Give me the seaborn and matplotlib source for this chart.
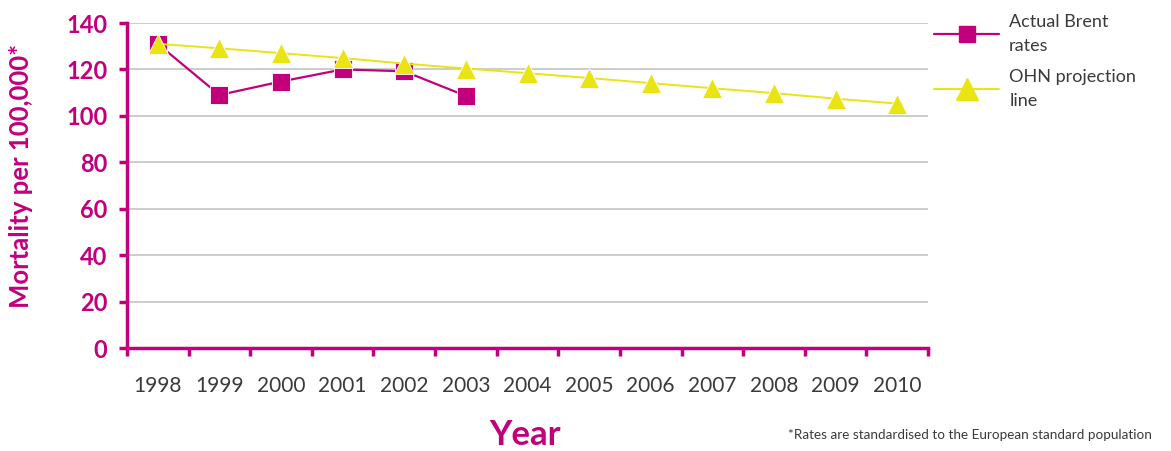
import matplotlib
matplotlib.use("Agg")
import matplotlib.pyplot as plt
from matplotlib.lines import Line2D
from matplotlib.ticker import FixedLocator
import numpy as np
import pandas as pd
import seaborn as sns

years = ["1998", "1999", "2000", "2001", "2002", "2003", "2004",
         "2005", "2006", "2007", "2008", "2009", "2010"]
actual_years = ["1998", "1999", "2000", "2001", "2002", "2003"]
actual_rates = [131.0, 109.0, 114.8, 120.0, 119.2, 108.6]
projection_rates = [131.0, 129.1, 127.0, 124.9, 122.5, 120.4, 118.4,
                    116.3, 114.1, 111.9, 109.8, 107.4, 105.3]
y_ticks = [0, 20, 40, 60, 80, 100, 120, 140]

MAGENTA = "#C2007B"
YELLOW = "#EAE414"
TEXT_GREY = "#3a3a3a"

sns.set_theme(style="white")
plt.rcParams["font.family"] = ["Lato", "DejaVu Sans"]

pos = {y: i for i, y in enumerate(years)}
actual_df = pd.DataFrame({"x": [pos[y] for y in actual_years], "rate": actual_rates})
proj_df = pd.DataFrame({"x": [pos[y] for y in years], "rate": projection_rates})

fig = plt.figure(figsize=(11.71, 4.51), dpi=100)
ax = fig.add_axes([127 / 1171, 1 - 348 / 451, (928 - 127) / 1171, (348 - 23) / 451])

ax.set_ylim(0, 140)
ax.set_xlim(-0.5, len(years) - 0.5)

# light horizontal gridlines
for v in y_ticks[1:]:
    ax.axhline(v, color="#c4c4c4", lw=1.2, zorder=0)

sns.lineplot(data=actual_df, x="x", y="rate", ax=ax, color=MAGENTA, lw=1.6,
             marker="s", markersize=13, markeredgecolor="white",
             markeredgewidth=0.6, zorder=3, legend=False)
sns.lineplot(data=proj_df, x="x", y="rate", ax=ax, color=YELLOW, lw=1.4,
             marker="^", markersize=14, markeredgecolor="white",
             markeredgewidth=0.6, zorder=4, legend=False)

# spines
for side in ("top", "right"):
    ax.spines[side].set_visible(False)
for side in ("left", "bottom"):
    ax.spines[side].set_color(MAGENTA)
    ax.spines[side].set_linewidth(2.5)

# y ticks
ax.set_yticks(y_ticks)
ax.set_yticklabels([str(v) for v in y_ticks], fontsize=17, fontweight="bold",
                   color=MAGENTA)
ax.tick_params(axis="y", direction="out", length=6, width=2.5, color=MAGENTA,
               pad=8, left=True)

# x ticks: labels centred on each year, marks on category boundaries
ax.set_xticks(range(len(years)))
ax.set_xticklabels(years, fontsize=15, color=TEXT_GREY)
ax.tick_params(axis="x", which="major", length=0, pad=20)
ax.xaxis.set_minor_locator(FixedLocator(np.arange(-0.5, len(years), 1.0)))
ax.tick_params(axis="x", which="minor", direction="out", length=6, width=2.5,
               color=MAGENTA, bottom=True)

ax.set_xlabel("")
ax.set_ylabel("")
fig.text(21 / 1171, 1 - 176 / 451, "Mortality per 100,000*", fontsize=18.5,
         fontweight="bold", color=MAGENTA, rotation=90, ha="center", va="center")

fig.text(525 / 1171, 1 - 435 / 451, "Year", fontsize=25, fontweight="bold",
         color=MAGENTA, ha="center", va="center")
fig.text(1152 / 1171, 1 - 435 / 451,
         "*Rates are standardised to the European standard population",
         fontsize=9.7, color=TEXT_GREY, ha="right", va="center")

handles = [
    Line2D([], [], color=MAGENTA, lw=1.6, marker="s", markersize=11,
           markeredgecolor=MAGENTA),
    Line2D([], [], color=YELLOW, lw=1.4, marker="^", markersize=16,
           markeredgecolor=YELLOW),
]
leg = fig.legend(handles, ["Actual Brent\nrates", "OHN projection\nline"],
                 loc="upper left", bbox_to_anchor=(918 / 1171, 1 + 2 / 451),
                 frameon=False, fontsize=13, labelcolor=TEXT_GREY,
                 handlelength=3.6, handletextpad=0.55, labelspacing=0.85)
for t in leg.get_texts():
    t.set_linespacing(1.6)

fig.savefig("out.png", dpi=100)
